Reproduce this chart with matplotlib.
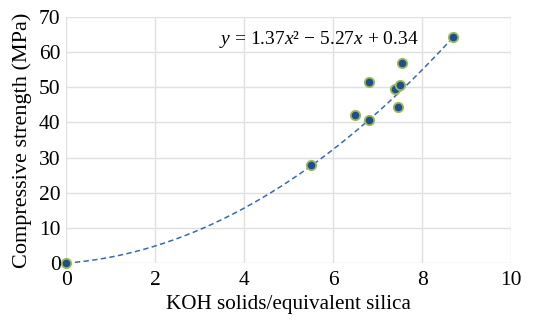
import matplotlib
matplotlib.use("Agg")
import matplotlib.pyplot as plt
import numpy as np

plt.rcParams['font.family'] = ['Liberation Serif', 'DejaVu Serif']
plt.rcParams['mathtext.fontset'] = 'custom'
plt.rcParams['mathtext.rm'] = 'Liberation Serif'
plt.rcParams['mathtext.it'] = 'Liberation Serif:italic'

x_vals = [0.0, 5.5, 6.5, 6.8, 6.8, 7.4, 7.45, 7.5, 7.55, 8.7]
y_vals = [0.0, 27.8, 42.2, 51.6, 40.6, 49.4, 44.5, 50.8, 56.8, 64.4]
# trendline as drawn (quadratic coefficients a, b, c)
trend_coef = [0.74, 0.95, 0.0]
trend_range = [0.0, 8.7]
x_ticks = [0, 2, 4, 6, 8, 10]
y_ticks = [0, 10, 20, 30, 40, 50, 60, 70]
equation = r"$y$ = 1.37$x$² − 5.27$x$ + 0.34"

fig = plt.figure(figsize=(5.34, 3.22), dpi=100)
ax = fig.add_axes([0.124, 0.183, 0.833, 0.764])

xx = np.linspace(trend_range[0], trend_range[1], 200)
ax.plot(xx, np.polyval(trend_coef, xx), ls=(0, (3.5, 2.2)), color='#3a6aa8', lw=1.1, zorder=2)
ax.scatter(x_vals, y_vals, s=46, color='#1f4e8c', edgecolor='#9bbb59', linewidth=1.3,
           zorder=3, clip_on=False)

ax.set_xlim(0, 10)
ax.set_ylim(0, 70)
ax.set_xticks(x_ticks)
ax.set_yticks(y_ticks)
ax.grid(True, color='#e0e0e0', lw=1.0)
ax.set_axisbelow(True)
for s in ax.spines.values():
    s.set_visible(False)
ax.tick_params(length=0, labelsize=15.5)
ax.tick_params(axis='x', pad=6)
ax.tick_params(axis='y', pad=4)
ax.set_xlabel('KOH solids/equivalent silica', fontsize=15.2, labelpad=3)
ax.set_ylabel('Compressive strength (MPa)', fontsize=16, labelpad=5)
ax.text(5.68, 63.6, equation, fontsize=14, ha='center', va='center')

fig.savefig('out.png', dpi=100)
